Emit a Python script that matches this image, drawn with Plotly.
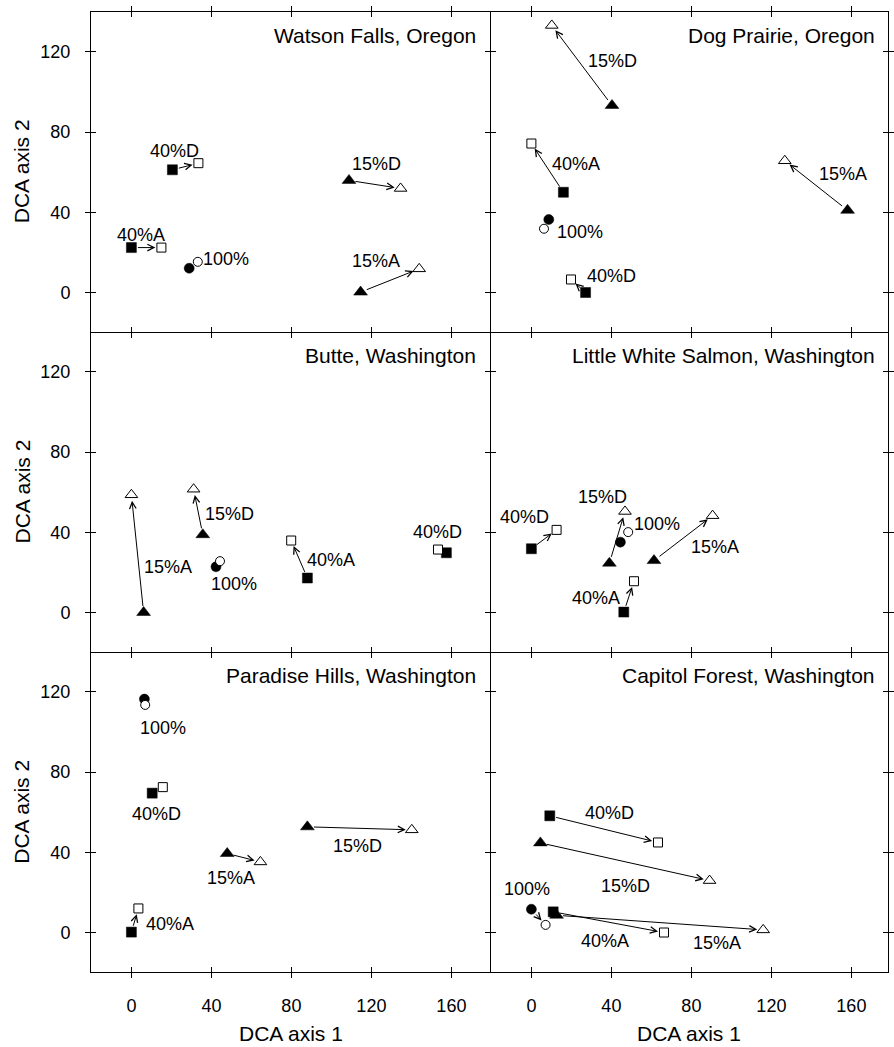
import math
import plotly.graph_objects as go

# ---------------- data ----------------
TREATMENTS = ["100%", "40%A", "40%D", "15%A", "15%D"]
SYMBOLS = ["circle", "square", "square", "triangle-up", "triangle-up"]

SITES = [
    "Watson Falls, Oregon",
    "Dog Prairie, Oregon",
    "Butte, Washington",
    "Little White Salmon, Washington",
    "Paradise Hills, Washington",
    "Capitol Forest, Washington",
]

# filled symbols (start of arrow) and open symbols (end of arrow), order = TREATMENTS
WATSON_FILLED_X = [28.9, 0.0, 20.5, 114.6, 108.8]
WATSON_FILLED_Y = [12.1, 22.4, 61.2, 0.2, 55.9]
WATSON_OPEN_X = [33.2, 15.0, 33.5, 143.9, 134.6]
WATSON_OPEN_Y = [15.3, 22.4, 64.5, 11.8, 51.9]

DOG_FILLED_X = [8.7, 16.0, 27.1, 158.1, 40.3]
DOG_FILLED_Y = [36.4, 50.0, 0.0, 41.0, 93.3]
DOG_OPEN_X = [6.3, 0.0, 19.8, 126.7, 10.2]
DOG_OPEN_Y = [31.8, 74.3, 6.5, 65.7, 133.2]

BUTTE_FILLED_X = [42.3, 88.0, 157.5, 6.1, 35.7]
BUTTE_FILLED_Y = [22.8, 17.2, 29.8, 0.0, 38.8]
BUTTE_OPEN_X = [44.3, 79.9, 153.3, 0.0, 31.1]
BUTTE_OPEN_Y = [25.6, 35.9, 31.4, 58.7, 61.5]

LWS_FILLED_X = [44.5, 46.2, 0.0, 61.3, 39.0]
LWS_FILLED_Y = [35.1, 0.2, 31.8, 25.9, 24.6]
LWS_OPEN_X = [48.4, 51.3, 12.6, 90.6, 46.8]
LWS_OPEN_Y = [40.1, 15.6, 41.2, 48.3, 50.4]

PARADISE_FILLED_X = [6.5, 0.0, 10.4, 47.9, 88.0]
PARADISE_FILLED_Y = [116.4, 0.2, 69.5, 39.4, 52.7]
PARADISE_OPEN_X = [6.9, 3.5, 15.7, 64.5, 140.2]
PARADISE_OPEN_Y = [113.5, 12.0, 72.5, 35.2, 51.2]

CAPITOL_FILLED_X = [0.0, 10.9, 9.2, 12.6, 4.5]
CAPITOL_FILLED_Y = [11.6, 10.3, 58.2, 8.6, 44.7]
CAPITOL_OPEN_X = [7.1, 66.3, 63.3, 115.9, 89.1]
CAPITOL_OPEN_Y = [3.8, 0.0, 44.9, 1.3, 25.9]

X_TICKS = [0, 40, 80, 120, 160]
Y_TICKS = [0, 40, 80, 120]

# ---------------- layout helpers ----------------
PANELS = [
    (WATSON_FILLED_X, WATSON_FILLED_Y, WATSON_OPEN_X, WATSON_OPEN_Y),
    (DOG_FILLED_X, DOG_FILLED_Y, DOG_OPEN_X, DOG_OPEN_Y),
    (BUTTE_FILLED_X, BUTTE_FILLED_Y, BUTTE_OPEN_X, BUTTE_OPEN_Y),
    (LWS_FILLED_X, LWS_FILLED_Y, LWS_OPEN_X, LWS_OPEN_Y),
    (PARADISE_FILLED_X, PARADISE_FILLED_Y, PARADISE_OPEN_X, PARADISE_OPEN_Y),
    (CAPITOL_FILLED_X, CAPITOL_FILLED_Y, CAPITOL_OPEN_X, CAPITOL_OPEN_Y),
]

# label placements (data coords of each panel), order = TREATMENTS
LABEL_POS = [
    [(47.1, 16.5), (5.0, 28.6), (21.5, 70.5), (122.1, 15.5), (122.4, 64.0)],
    [(24.1, 30.1), (22.5, 64.2), (40.2, 8.1), (155.6, 59.2), (40.7, 115.7)],
    [(51.3, 14.0), (100.0, 26.4), (153.0, 40.1), (18.2, 22.9), (48.8, 49.2)],
    [(63.0, 43.9), (32.1, 7.2), (-3.2, 47.6), (91.6, 32.9), (35.4, 57.6)],
    [(15.7, 102.2), (19.4, 4.1), (12.4, 58.9), (49.6, 27.1), (113.3, 43.2)],
    [(-2.0, 21.6), (36.9, -4.2), (39.0, 59.4), (92.8, -5.0), (47.3, 23.2)],
]

W, H = 894, 1047
ML, MR, MT, MB = 91, 0, 12, 75
PW = W - ML - MR          # 803
PH = H - MT - MB          # 960
X0_L = -20.2
PXU = 403 / 200.0         # pixels per DCA unit (x)
Y_LO, Y_HI = -19.7, 139.9
PYU = 320 / (Y_HI - Y_LO)

# column / row pixel boxes (1 px gap so the shared frame lines coincide)
COLS_PX = [(0, 402.5), (403.5, PW)]
ROWS_PX = [(0, 319.5), (320.5, 639.5), (640.5, PH)]   # from top


def xrange_for(c):
    a, b = COLS_PX[c]
    lo = X0_L if c == 0 else X0_L + 0.5 / PXU
    return [lo, lo + (b - a) / PXU]


def yrange_for(r):
    a, b = ROWS_PX[r]
    hi = Y_HI - (a - r * 320.0) / PYU
    lo = Y_LO + ((r + 1) * 320.0 - b) / PYU
    return [lo, hi]


FONT = "Liberation Sans, Arial, Helvetica, sans-serif"
x_dom = [[a / PW, b / PW] for a, b in COLS_PX]
y_dom = [[1 - b / PH, 1 - a / PH] for a, b in ROWS_PX]

fig = go.Figure()
layout = dict(
    width=W, height=H,
    margin=dict(l=ML, r=MR, t=MT, b=MB, pad=0),
    paper_bgcolor="white", plot_bgcolor="white",
    showlegend=False,
    font=dict(family=FONT, size=18, color="black"),
)
annotations = []

for i, (fx, fy, ox, oy) in enumerate(PANELS):
    n = i + 1
    row, col = divmod(i, 2)
    xs = "" if n == 1 else str(n)
    xid, yid = "x" + xs, "y" + xs
    ov = str(n + 6)
    xr = xrange_for(col)
    yr = yrange_for(row)

    common = dict(showgrid=False, zeroline=False, ticklen=5, tickwidth=1,
                  tickcolor="black", tickfont=dict(family=FONT, size=18, color="black"))
    layout["xaxis" + xs] = dict(
        domain=x_dom[col], range=xr, anchor=yid, tickmode="array", tickvals=X_TICKS,
        ticks="outside", mirror="allticks", showline=True, linecolor="black", linewidth=1,
        showticklabels=(row == 2), ticklabelstandoff=12, **common)
    layout["yaxis" + xs] = dict(
        domain=y_dom[row], range=yr, anchor=xid, tickmode="array", tickvals=Y_TICKS,
        ticks="outside", mirror="allticks", showline=True, linecolor="black", linewidth=1,
        showticklabels=(col == 0), ticklabelstandoff=11, **common)
    # overlay axes giving the inward half of the crossing tick marks
    layout["xaxis" + ov] = dict(
        domain=x_dom[col], range=xr, anchor="y" + ov, overlaying=xid, tickmode="array",
        tickvals=X_TICKS, ticks="inside", mirror="allticks", showline=False,
        showticklabels=False, **common)
    layout["yaxis" + ov] = dict(
        domain=y_dom[row], range=yr, anchor="x" + ov, overlaying=yid, tickmode="array",
        tickvals=Y_TICKS, ticks="inside", mirror="allticks", showline=False,
        showticklabels=False, **common)
    fig.add_trace(go.Scatter(x=[None], y=[None], xaxis="x" + ov, yaxis="y" + ov,
                             hoverinfo="skip", showlegend=False))

    sizes_f = [10 if s != "triangle-up" else 12 for s in SYMBOLS]
    sizes_o = [9 if s != "triangle-up" else 11 for s in SYMBOLS]
    fig.add_trace(go.Scatter(
        x=fx, y=fy, mode="markers", xaxis=xid, yaxis=yid, text=TREATMENTS,
        marker=dict(symbol=SYMBOLS, size=sizes_f, color="#000000", opacity=1,
                    line=dict(width=0.5, color="#000000"))))
    fig.add_trace(go.Scatter(
        x=ox, y=oy, mode="markers", xaxis=xid, yaxis=yid, text=TREATMENTS,
        marker=dict(symbol=SYMBOLS, size=sizes_o, color="#ffffff", opacity=1,
                    line=dict(width=1, color="#000000"))))

    # arrows from filled to open symbols (only when they are far enough apart)
    for k in range(len(TREATMENTS)):
        dpx = math.hypot((ox[k] - fx[k]) * PXU, (oy[k] - fy[k]) * PYU)
        if dpx < 14:
            continue
        annotations.append(dict(
            x=ox[k], y=oy[k], ax=fx[k], ay=fy[k], xref=xid, yref=yid,
            axref=xid, ayref=yid, text="", showarrow=True, arrowhead=5,
            arrowsize=1.3, arrowwidth=1, arrowcolor="#000000",
            standoff=6, startstandoff=5))
    # treatment labels
    for k, t in enumerate(TREATMENTS):
        lx, ly = LABEL_POS[i][k]
        annotations.append(dict(
            x=lx, y=ly, xref=xid, yref=yid, text=t, showarrow=False,
            xanchor="center", yanchor="middle",
            font=dict(family=FONT, size=18, color="black")))
    # site title
    annotations.append(dict(
        x=173.5 if col == 0 else 172.8, y=128.1, xref=xid, yref=yid, text=SITES[i],
        showarrow=False, xanchor="right", yanchor="middle",
        font=dict(family=FONT, size=21, color="black")))

# axis titles
for row in range(3):
    yc = (y_dom[row][0] + y_dom[row][1]) / 2
    annotations.append(dict(
        x=(21 - ML) / PW, y=yc, xref="paper", yref="paper", text="DCA axis 2",
        textangle=-90, showarrow=False, xanchor="center", yanchor="middle",
        font=dict(family=FONT, size=21, color="black")))
for col, cx in enumerate([292.5, 693.0]):
    annotations.append(dict(
        x=(cx - ML) / PW, y=(H - MB - 1033) / PH, xref="paper", yref="paper",
        text="DCA axis 1", showarrow=False, xanchor="center", yanchor="middle",
        font=dict(family=FONT, size=21, color="black")))

layout["annotations"] = annotations
fig.update_layout(**layout)
fig.write_html("out.html")
